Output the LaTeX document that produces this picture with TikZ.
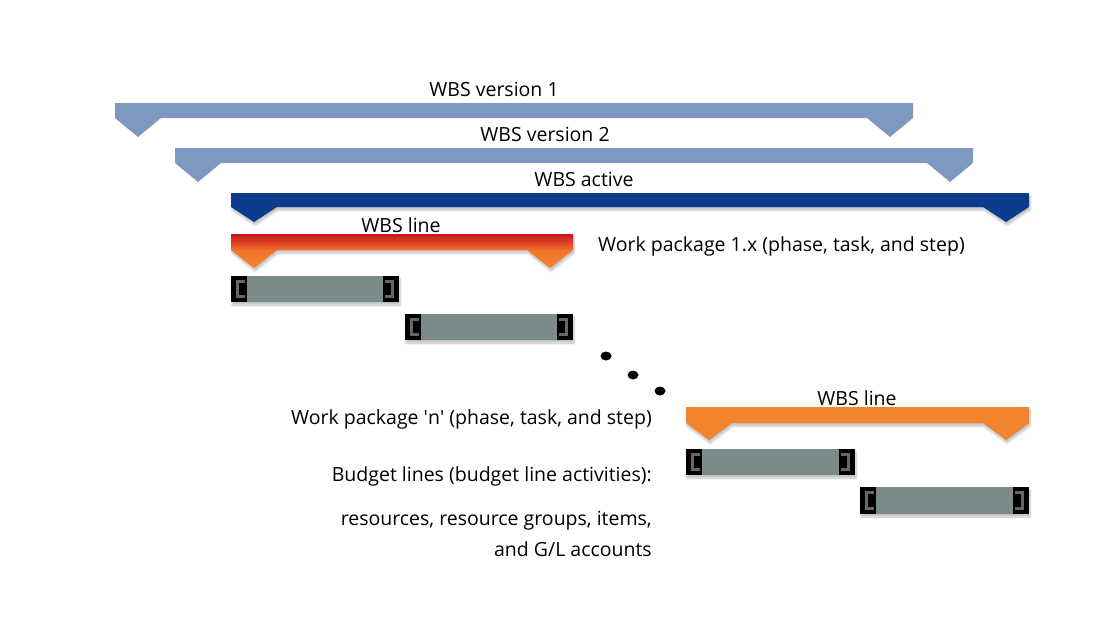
\documentclass[tikz,border=0pt]{standalone}
\usepackage{fontspec}
\setmainfont{Open Sans}
\usetikzlibrary{shadows.blur}
\definecolor{wbsgrey}{HTML}{7F98C0}
\definecolor{wbsblue}{HTML}{0C3A8C}
\definecolor{wbsred}{HTML}{C8141E}
\definecolor{wbsorange}{HTML}{F2832F}
\definecolor{budgetgrey}{HTML}{7B8B89}
\tikzset{
  lbl/.style={inner sep=0pt, font=\fontsize{19.5}{22}\selectfont},
  barshadow/.style={blur shadow={shadow blur steps=6, shadow xshift=1pt, shadow yshift=-3pt, shadow opacity=25}},
}
% bar with a tab below each end: x1, x2, top, bottom, tip
\newcommand{\wbsbar}[6][]{%
  \path[#1] (#2,#4) -- (#3,#4) -- (#3,#5) -- (#3-23,#6) -- (#3-46,#5)
    -- (#2+46,#5) -- (#2+23,#6) -- (#2,#5) -- cycle;}
% budget line: x1, x2, top, bottom
\newcommand{\budgetbar}[4]{%
  \fill[budgetgrey, barshadow] (#1,#3) rectangle (#2,#4);
  \fill[black] (#1,#3) rectangle (#1+16,#4);
  \fill[black] (#2-16,#3) rectangle (#2,#4);
  \draw[black!60, line width=3.5pt] (#1+14,#3+5.5) -- (#1+6.5,#3+5.5) -- (#1+6.5,#4-5.5) -- (#1+14,#4-5.5);
  \draw[black!60, line width=3.5pt] (#2-14,#3+5.5) -- (#2-6.5,#3+5.5) -- (#2-6.5,#4-5.5) -- (#2-14,#4-5.5);}
\begin{document}
\begin{tikzpicture}[x=1pt,y=-1pt]
\useasboundingbox (0,0) rectangle (1112,632);
% WBS versions
\wbsbar[fill=wbsgrey]{115}{913}{103}{118}{137}
\wbsbar[fill=wbsgrey]{175}{973}{148}{163}{182}
\wbsbar[fill=wbsblue, barshadow]{231}{1029}{193}{207}{222}
\node[lbl] (v1) at (494,89) {WBS version 1};
\node[lbl] (v2) at (545,134) {WBS version 2};
\node[lbl] (act) at (584,179) {WBS active};
% first work package
\wbsbar[top color=wbsred, bottom color=wbsorange, middle color=wbsorange!90!red, barshadow]{231}{573}{234}{250}{268}
\node[lbl] (line1) at (401,225) {WBS line};
\node[lbl, anchor=west] (wp1) at (598,246) {Work package 1.x (phase, task, and step)};
\budgetbar{231}{399}{276}{302}
\budgetbar{405}{573}{314}{340}
% dots
\fill (606,356) ellipse [x radius=5.5, y radius=4.5];
\fill (633,375) ellipse [x radius=5.5, y radius=4.5];
\fill (660,391) ellipse [x radius=5.5, y radius=4.5];
% last work package
\wbsbar[fill=wbsorange, barshadow]{686}{1029}{407}{423}{440}
\node[lbl] (line2) at (857,398) {WBS line};
\node[lbl, anchor=east] (wpn) at (652,419) {Work package \textquotesingle n\textquotesingle\ (phase, task, and step)};
\budgetbar{686}{855}{449}{475}
\budgetbar{860}{1029}{487}{514}
\node[lbl, anchor=east] (bl) at (652,476) {Budget lines (budget line activities):};
\node[lbl, anchor=east] (res) at (652,521) {resources, resource groups, items,};
\node[lbl, anchor=east] (gl) at (652,549) {and G/L accounts};
\end{tikzpicture}
\end{document}
